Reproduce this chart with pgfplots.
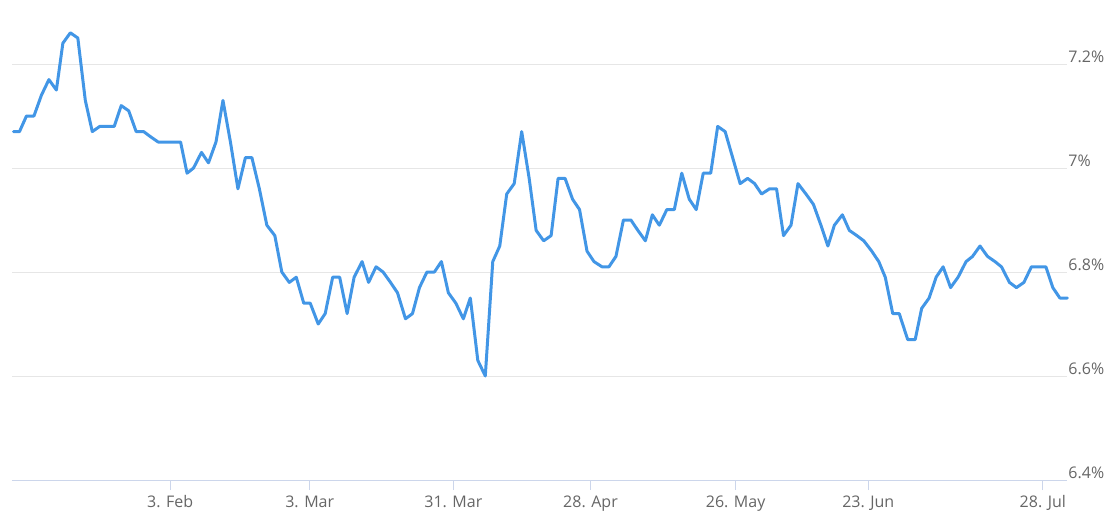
\documentclass[border=0pt]{standalone}
\usepackage{pgfplots}
\pgfplotsset{compat=1.18}
\usepackage{fontspec}
\setmainfont{Open Sans}
\definecolor{linecol}{RGB}{66,150,230}
\definecolor{gridcol}{RGB}{230,230,230}
\definecolor{axiscol}{RGB}{204,214,235}
\definecolor{labcol}{RGB}{102,102,102}
\pgfplotstableread{
d v
2.6 7.07
3.8 7.07
5.2 7.10
6.7 7.10
8.2 7.14
9.7 7.17
11.2 7.15
12.5 7.24
14.0 7.26
15.5 7.25
17.0 7.13
18.4 7.07
19.9 7.08
21.4 7.08
22.8 7.08
24.2 7.12
25.7 7.11
27.2 7.07
28.7 7.07
30.1 7.06
31.6 7.05
33.1 7.05
34.6 7.05
36.1 7.05
37.4 6.99
38.7 7.00
40.3 7.03
41.7 7.01
43.2 7.05
44.6 7.13
46.1 7.05
47.6 6.96
49.1 7.02
50.4 7.02
51.9 6.96
53.4 6.89
55.0 6.87
56.4 6.80
57.9 6.78
59.3 6.79
60.8 6.74
62.1 6.74
63.7 6.70
65.1 6.72
66.6 6.79
68.0 6.79
69.5 6.72
70.9 6.79
72.5 6.82
73.8 6.78
75.3 6.81
76.7 6.80
78.2 6.78
79.6 6.76
81.2 6.71
82.6 6.72
84.0 6.77
85.5 6.80
87.0 6.80
88.4 6.82
89.8 6.76
91.3 6.74
92.8 6.71
94.2 6.75
95.7 6.63
97.2 6.60
98.7 6.82
100.1 6.85
101.5 6.95
103.0 6.97
104.5 7.07
106.0 6.98
107.4 6.88
108.9 6.86
110.4 6.87
111.8 6.98
113.2 6.98
114.7 6.94
116.1 6.92
117.6 6.84
119.0 6.82
120.6 6.81
122.0 6.81
123.4 6.83
124.9 6.90
126.4 6.90
127.8 6.88
129.3 6.86
130.7 6.91
132.1 6.89
133.6 6.92
135.1 6.92
136.6 6.99
138.1 6.94
139.5 6.92
140.9 6.99
142.4 6.99
143.8 7.08
145.3 7.07
146.8 7.02
148.3 6.97
149.8 6.98
151.2 6.97
152.6 6.95
154.2 6.96
155.6 6.96
157.0 6.87
158.5 6.89
159.9 6.97
161.5 6.95
163.0 6.93
164.5 6.89
165.9 6.85
167.2 6.89
168.8 6.91
170.2 6.88
171.7 6.87
173.1 6.86
174.7 6.84
176.1 6.82
177.4 6.79
178.9 6.72
180.2 6.72
181.9 6.67
183.4 6.67
184.7 6.73
186.2 6.75
187.6 6.79
189.0 6.81
190.5 6.77
192.0 6.79
193.6 6.82
194.9 6.83
196.4 6.85
197.9 6.83
199.4 6.82
200.7 6.81
202.3 6.78
203.7 6.77
205.2 6.78
206.7 6.81
208.2 6.81
209.6 6.81
211.0 6.77
212.4 6.75
213.9 6.75
}\yields
\begin{document}
\begin{tikzpicture}
\useasboundingbox (0,0) rectangle (1117pt,517pt);
\begin{axis}[
  at={(12pt,37pt)}, anchor=south west,
  width=1055.3pt, height=468pt, scale only axis,
  xmin=2.3, xmax=213.9, ymin=6.4, ymax=7.3,
  axis x line*=bottom, axis y line*=right,
  x axis line style={draw=axiscol, line width=1pt, -},
  y axis line style={draw=none},
  xtick={34,62,90.8,118.3,147.4,174,209},
  xticklabels={3. Feb,3. Mar,31. Mar,28. Apr,26. May,23. Jun,28. Jul},
  ytick={6.4,6.6,6.8,7.0,7.2},
  yticklabels={6.4\%,6.6\%,6.8\%,7\%,7.2\%},
  ymajorgrids, grid style={draw=gridcol, line width=1pt},
  tick align=outside, major tick length=10pt,
  xtick style={draw=axiscol, line width=1pt},
  ytick style={draw=none},
  xticklabel style={anchor=base, inner sep=0pt, yshift=-17pt, font=\fontsize{16}{16}\selectfont, text=labcol},
  yticklabel style={anchor=base west, inner sep=0pt, xshift=-9pt, yshift=2pt, font=\fontsize{16}{16}\selectfont, text=labcol},
  clip=false,
]
\addplot[draw=linecol, line width=3pt, line join=round, line cap=round, mark=none] table[x=d, y=v] {\yields};
\end{axis}
\end{tikzpicture}
\end{document}
